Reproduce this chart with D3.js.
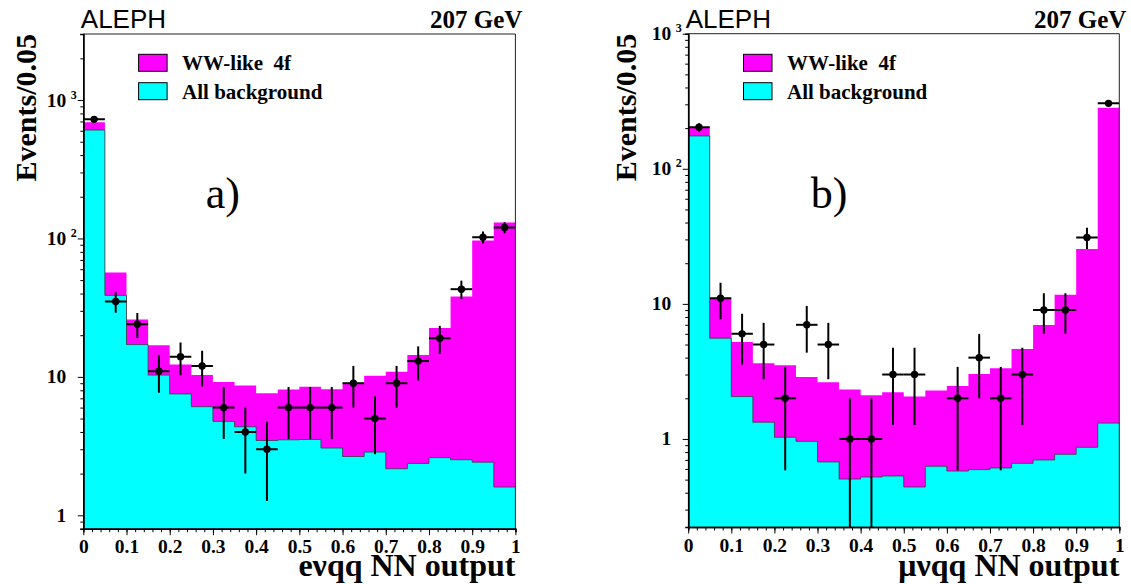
<!DOCTYPE html>
<html>
<head>
<meta charset="utf-8">
<script src="https://cdn.jsdelivr.net/npm/d3@7"></script>
<style>
  html, body { margin: 0; padding: 0; background: #fff; }
  svg { display: block; }
</style>
</head>
<body>
<svg id="chart" width="1131" height="584"></svg>
<script>
// ---------- DATA ----------
const binEdges = [0, 0.05, 0.1, 0.15, 0.2, 0.25, 0.3, 0.35, 0.4, 0.45, 0.5,
                  0.55, 0.6, 0.65, 0.7, 0.75, 0.8, 0.85, 0.9, 0.95, 1];

// panel a) e nu q q
const aTotal = [690, 56.7, 26.0, 16.9, 12.3, 10.3, 9.2, 8.65, 7.6, 8.09,
                8.5, 8.13, 8.99, 10.2, 10.9, 14.4, 22.5, 38, 96.8, 130.6];
const aBkg   = [607, 38.8, 17.1, 10.3, 7.53, 6.09, 4.77, 4.36, 3.47, 3.51,
                3.53, 3.06, 2.66, 2.86, 2.17, 2.37, 2.61, 2.52, 2.42, 1.60];
const aData  = [725, 35, 24, 11, 14, 12, 6, 4, 3, 6,
                6, 6, 9, 5, 9, 13, 19, 43, 102, 120];

// panel b) mu nu q q
const bTotal = [203, 10.9, 5.23, 3.64, 3.51, 2.88, 2.63, 2.32, 2.11, 2.22,
                2.06, 2.28, 2.47, 3.03, 3.34, 4.64, 6.99, 11.7, 25.5, 283];
const bBkg   = [175, 5.57, 2.06, 1.33, 1.03, 0.96, 0.676, 0.505, 0.523, 0.532,
                0.441, 0.628, 0.579, 0.593, 0.61, 0.66, 0.699, 0.77, 0.868, 1.31];
const bData  = [203, 11, 6, 5, 2, 7, 5, 1, 1, 3,
                3, 0, 2, 4, 2, 3, 9, 9, 31, 305];

const xTickValues = [0, 0.1, 0.2, 0.3, 0.4, 0.5, 0.6, 0.7, 0.8, 0.9, 1];
const xTickLabels = ["0", "0.1", "0.2", "0.3", "0.4", "0.5", "0.6", "0.7", "0.8", "0.9", "1"];
const yMajorValues = [1, 10, 100, 1000];
const yMajorBase = ["1", "10", "10", "10"];
const yMajorExp  = ["", "", "2", "3"];
const legendLabels = ["WW-like  4f", "All background"];
const seriesColors = ["#ff00ff", "#00ffff"];

const panels = [
  { id: "a", total: aTotal, bkg: aBkg, data: aData,
    xr: [83.3, 515.4], yr: [528.7, 34], ydom: [0.8, 3000],
    tag: "a)", xlabel: "eνqq NN output", ytitleOff: 47.6 },
  { id: "b", total: bTotal, bkg: bBkg, data: bData,
    xr: [688.2, 1119.3], yr: [527, 33.7], ydom: [0.223, 1000],
    tag: "b)", xlabel: "μνqq NN output", ytitleOff: 52 }
];

const serif = "'Liberation Serif', 'Times New Roman', Times, serif";
const sans = "'Liberation Sans', Arial, Helvetica, sans-serif";

const svg = d3.select("#chart");
svg.append("rect").attr("width", 1131).attr("height", 584).attr("fill", "#fff");

panels.forEach((p, pi) => {
  const x = d3.scaleLinear().domain([0, 1]).range(p.xr);
  const y = d3.scaleLog().domain(p.ydom).range(p.yr);
  const g = svg.append("g");
  const clipId = "clip-" + p.id;
  g.append("clipPath").attr("id", clipId)
    .append("rect").attr("x", p.xr[0]).attr("y", p.yr[1])
    .attr("width", p.xr[1] - p.xr[0]).attr("height", p.yr[0] - p.yr[1]);

  const stepPts = vals => {
    const pts = [];
    vals.forEach((v, i) => { pts.push([binEdges[i], v]); pts.push([binEdges[i + 1], v]); });
    return pts;
  };
  const area = d3.area().x(d => x(d[0])).y0(p.yr[0]).y1(d => y(d[1]));
  const line = d3.line().x(d => x(d[0])).y(d => y(d[1]));

  const plot = g.append("g").attr("clip-path", `url(#${clipId})`);
  plot.append("path").attr("d", area(stepPts(p.total))).attr("fill", seriesColors[0]);
  plot.append("path").attr("d", area(stepPts(p.bkg))).attr("fill", seriesColors[1]);
  plot.append("path").attr("d", line(stepPts(p.bkg))).attr("fill", "none")
    .attr("stroke", "#3a3a3a").attr("stroke-width", 0.8);

  // frame top / right
  g.append("path")
    .attr("d", `M${p.xr[0]},${p.yr[1]}H${p.xr[1]}V${p.yr[0]}`)
    .attr("fill", "none").attr("stroke", "#222").attr("stroke-width", 1);

  // data points
  const pts = plot.append("g");
  p.data.forEach((n, i) => {
    if (n <= 0) return;
    const cx = x((binEdges[i] + binEdges[i + 1]) / 2);
    const cy = y(n);
    const err = Math.sqrt(n);
    const lo = n - err > 0 ? y(n - err) : p.yr[0] + 5;
    pts.append("line").attr("x1", cx).attr("x2", cx).attr("y1", y(n + err)).attr("y2", lo)
      .attr("stroke", "#000").attr("stroke-width", 2);
    pts.append("line").attr("x1", x(binEdges[i])).attr("x2", x(binEdges[i + 1]))
      .attr("y1", cy).attr("y2", cy).attr("stroke", "#000").attr("stroke-width", 2);
    pts.append("circle").attr("cx", cx).attr("cy", cy).attr("r", 3.7).attr("fill", "#000");
  });

  // x axis
  const xMinor = d3.range(0, 1.0001, 0.02);
  const xaxMinor = g.append("g").attr("transform", `translate(0,${p.yr[0]})`)
    .call(d3.axisBottom(x).tickValues(xMinor).tickSize(3.5).tickFormat(""));
  xaxMinor.selectAll(".tick text").remove();
  const xax = g.append("g").attr("transform", `translate(0,${p.yr[0]})`)
    .call(d3.axisBottom(x).tickValues(xTickValues).tickSize(6.5).tickSizeOuter(0)
      .tickFormat((d, i) => xTickLabels[i]));
  [xaxMinor, xax].forEach(a => {
    a.select(".domain").attr("stroke", "#000").attr("stroke-width", 1.5);
    a.selectAll(".tick line").attr("stroke", "#000").attr("stroke-width", 1);
  });
  xax.selectAll(".tick text").attr("font-family", serif).attr("font-weight", "bold")
    .attr("font-size", 19.5).attr("fill", "#000").attr("dy", null).attr("y", 24.5);

  // y axis
  const [d0, d1] = p.ydom;
  const yMinor = [];
  [0.1, 1, 10, 100, 1000].forEach(dec => {
    for (let k = 2; k <= 9; k++) {
      const v = k * dec;
      if (v >= d0 && v <= d1) yMinor.push(v);
    }
  });
  const yaxMinor = g.append("g").attr("transform", `translate(${p.xr[0]},0)`)
    .call(d3.axisLeft(y).tickValues(yMinor).tickSize(3).tickFormat(""));
  yaxMinor.selectAll(".tick text").remove();
  const yMaj = yMajorValues.filter(v => v >= d0 && v <= d1);
  const yax = g.append("g").attr("transform", `translate(${p.xr[0]},0)`)
    .call(d3.axisLeft(y).tickValues(yMaj).tickSize(5.5).tickSizeOuter(0).tickFormat(""));
  yax.selectAll(".tick text").remove();
  [yaxMinor, yax].forEach(a => {
    a.select(".domain").attr("stroke", "#000").attr("stroke-width", 1.5);
    a.selectAll(".tick line").attr("stroke", "#000").attr("stroke-width", 1);
  });
  yMajorValues.forEach((v, i) => {
    if (v < d0 || v > d1) return;
    const ty = y(v);
    g.append("text").attr("x", p.xr[0] - 17).attr("y", ty + 6.5)
      .attr("text-anchor", "end").attr("font-family", serif).attr("font-weight", "bold")
      .attr("font-size", 19.5).text(yMajorBase[i]);
    if (yMajorExp[i]) {
      g.append("text").attr("x", p.xr[0] - 12.5).attr("y", ty - 1.5)
        .attr("font-family", serif).attr("font-weight", "bold")
        .attr("font-size", 12).text(yMajorExp[i]);
    }
  });

  // axis titles
  g.append("text").attr("x", p.xr[1]).attr("y", 576)
    .attr("text-anchor", "end").attr("font-family", serif).attr("font-weight", "bold")
    .attr("font-size", 32).text(p.xlabel);

  const ylx = p.xr[0] - p.ytitleOff;
  g.append("text").attr("transform", `translate(${ylx},${p.yr[1]}) rotate(-90)`)
    .attr("text-anchor", "end").attr("font-family", serif).attr("font-weight", "bold")
    .attr("font-size", 30).text("Events/0.05");

  // ALEPH / energy
  g.append("text").attr("x", p.xr[0] - 2.5).attr("y", 28.3)
    .attr("font-family", sans).attr("font-size", 26).text("ALEPH");
  g.append("text").attr("x", p.xr[1] + 7).attr("y", 28.3).attr("text-anchor", "end")
    .attr("font-family", serif).attr("font-weight", "bold").attr("font-size", 25).text("207 GeV");

  // legend
  const lx = p.xr[0] + 55.3;
  [[54.3, 70], [82.7, 99.3]].forEach(([by, ty], i) => {
    g.append("rect").attr("x", lx).attr("y", by).attr("width", 28.5).attr("height", 17)
      .attr("fill", seriesColors[i]).attr("stroke", "#000").attr("stroke-width", 1);
    g.append("text").attr("x", lx + 43.5).attr("y", ty)
      .attr("font-family", serif).attr("font-weight", "bold").attr("font-size", 21)
      .style("white-space", "pre").text(legendLabels[i]);
  });

  // panel tag
  g.append("text").attr("x", p.xr[0] + 122.5).attr("y", 208.3)
    .attr("font-family", serif).attr("font-size", 44).text(p.tag);
});
</script>
</body>
</html>
